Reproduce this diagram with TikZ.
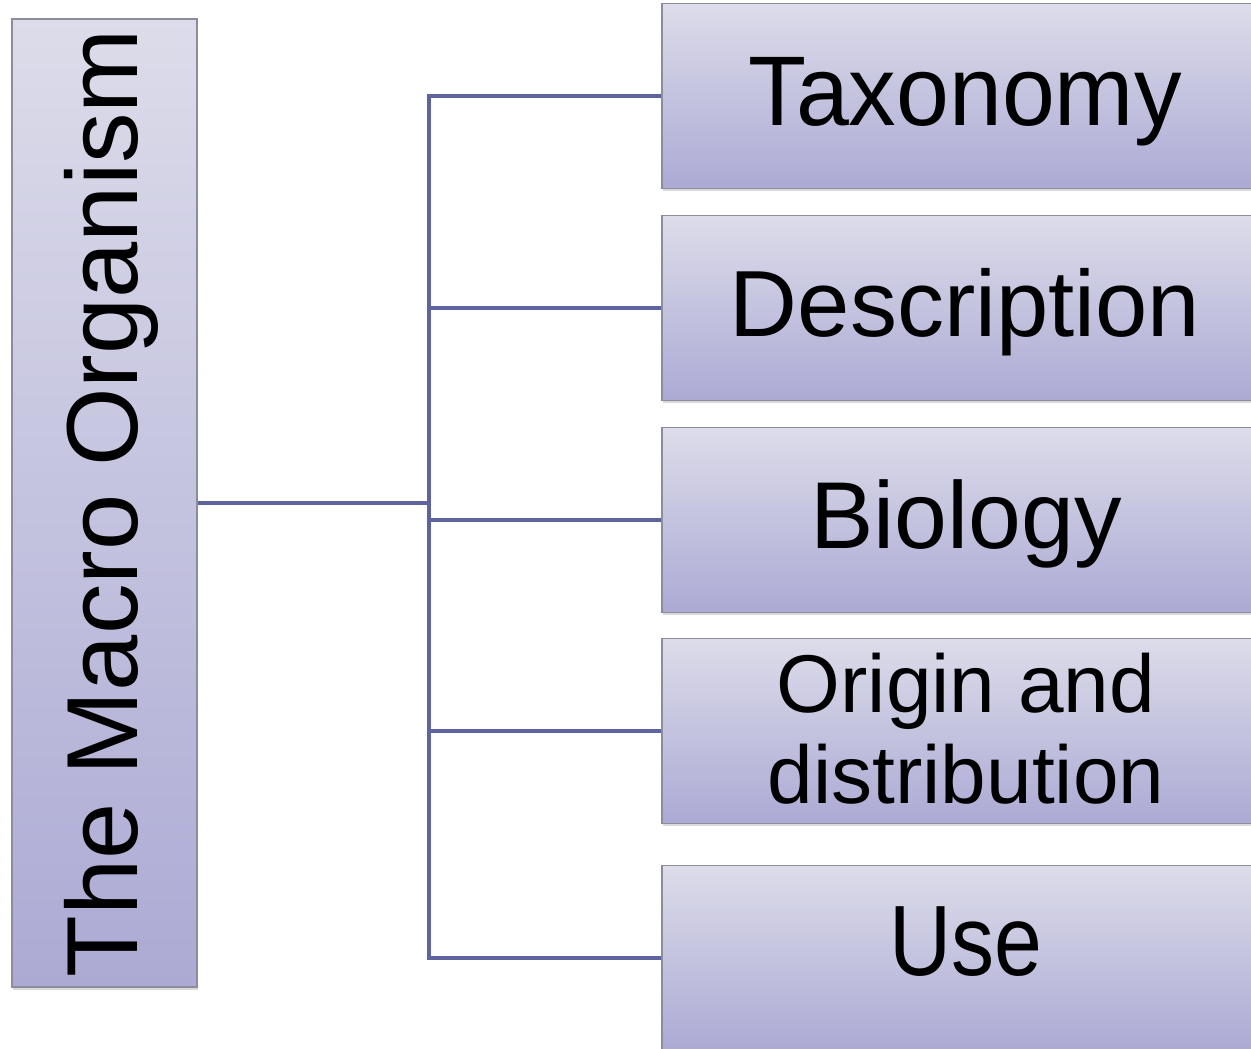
\documentclass[tikz,border=0pt]{standalone}
\usepackage{fontspec}
\setmainfont{Liberation Sans}
\usetikzlibrary{shadows}
\definecolor{boxtop}{HTML}{DCDCEA}
\definecolor{boxbot}{HTML}{ACAAD4}
\definecolor{linkc}{HTML}{5F63A0}
\definecolor{edgec}{HTML}{8C8C9C}
\begin{document}
\begin{tikzpicture}[x=1pt,y=1pt,
  box/.style={draw=edgec, line width=1.2pt, top color=boxtop, bottom color=boxbot,
    drop shadow={opacity=0.3, shadow xshift=1pt, shadow yshift=-3pt},
    inner sep=0pt, minimum width=604pt, minimum height=185pt},
  link/.style={draw=linkc, line width=4.5pt},
  lbl/.style={inner sep=0pt, anchor=base, text=black}]
\useasboundingbox (0,0) rectangle (1251,1049);
\clip (0,0) rectangle (1251,1049);
% boxes
\node[box, minimum width=185pt, minimum height=968pt] (root) at (104.5,546) {};
\node[box] (tax)  at (964,953) {};
\node[box] (desc) at (964,741) {};
\node[box] (bio)  at (964,529) {};
\node[box] (orig) at (964,318) {};
\node[box] (use)  at (964,91)  {};
% connectors
\coordinate (j) at (429,546);
\draw[link] (root.east) -- (j);
\draw[link, line cap=rect] (j |- tax.west) -- (j |- use.west);
\foreach \n in {tax,desc,bio,orig,use} \draw[link] (j |- \n.west) -- (\n.west);
% labels
\node[lbl, rotate=90, font=\fontsize{101}{110}\selectfont] (rootlbl) at (137,546) {The Macro Organism};
\node[lbl, font=\fontsize{99}{110}\selectfont, xscale=0.96] (taxlbl) at (965,923) {Taxonomy};
\node[lbl, font=\fontsize{94}{110}\selectfont] (desclbl) at (965,712) {Description};
\node[lbl, font=\fontsize{95}{110}\selectfont] (biolbl) at (966,500) {Biology};
\node[inner sep=0pt, anchor=north, align=center, font=\fontsize{82}{91}\selectfont] (origlbl) at (966,396) {Origin and\\distribution};
\node[lbl, font=\fontsize{100}{110}\selectfont, xscale=0.86] (uselbl) at (966,73) {Use};
\end{tikzpicture}
\end{document}
